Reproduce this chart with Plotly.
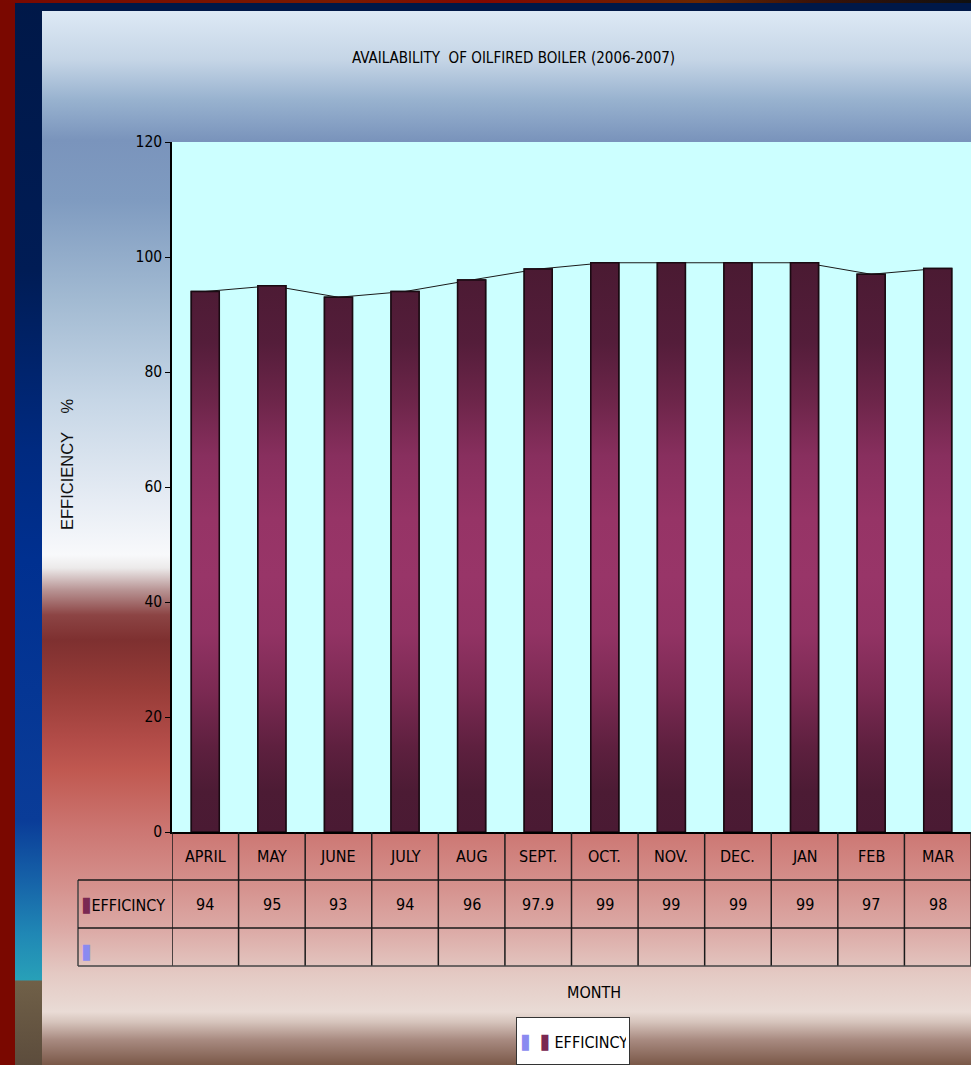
import base64
import plotly.graph_objects as go

# ---------------- data ----------------
months = ["APRIL", "MAY", "JUNE", "JULY", "AUG", "SEPT.", "OCT.", "NOV.", "DEC.", "JAN", "FEB", "MAR"]
efficiency = [94, 95, 93, 94, 96, 97.9, 99, 99, 99, 99, 97, 98]
series_name = "EFFICINCY"
blank_series = [None] * 12          # second (empty) series shown in table / legend
y_ticks = [0, 20, 40, 60, 80, 100, 120]
title_text = "AVAILABILITY  OF OILFIRED BOILER (2006-2007)"
y_title = "EFFICIENCY    %"
x_title = "MONTH"

# ---------------- layout constants ----------------
W, H = 971, 1065
PX0 = 172            # plot area left (px)
PY_TOP = 142         # y = 120
PY_BOT = 832         # y = 0
ROW1 = 880
ROW2 = 928
TABLE_BOT = 966
TABLE_X0 = 78
NARROW = "DejaVu Sans Condensed, Liberation Sans Narrow, sans-serif"
REG = "Liberation Sans, Arial, sans-serif"
BAR_COLOR = "#7a2852"
BLANK_COLOR = "#8a8af0"
GRID = "#1a1a1a"

def fx(px):
    return px / W

def fy(py):
    return 1 - py / H

def key(color):
    return f"<span style='color:{color};font-size:21px'>▮</span>"

# ---------------- background (decoration) ----------------
def stops(lst):
    return "".join(f"<stop offset='{o:.4f}' stop-color='{c}'/>" for o, c in lst)

main_stops = [(11, "#dde9f5"), (60, "#c5d5e6"), (100, "#98b2cf"), (140, "#7a94bc"),
              (200, "#7f9bc0"), (300, "#a2bad2"), (400, "#c6d6e6"), (500, "#e6ecf4"),
              (555, "#f8f9fb"), (568, "#eceaea"), (590, "#b89494"), (615, "#8c4444"),
              (640, "#7e3030"), (690, "#983c38"), (740, "#b24c48"), (770, "#c05850"),
              (830, "#cc7672"), (880, "#d48e8a"), (930, "#dcaaa6"), (975, "#e4cac4"),
              (1012, "#e9dbd5"), (1022, "#d6c4bc"), (1040, "#a88a80"), (1065, "#7a5848")]
side_stops = [(0, "#001848"), (270, "#001c55"), (450, "#002a80"), (560, "#003090"),
              (820, "#0a3c98"), (880, "#1662a8"), (935, "#2088b5"), (980, "#28a0b8"),
              (981, "#706048"), (1065, "#5c4c3c")]
top_stops = [(0, "#7a0800"), (0.35, "#7a1a00"), (0.5, "#820800"), (0.72, "#6a2600"),
             (0.84, "#3a1208"), (1, "#101010")]

svg = (
    f"<svg xmlns='http://www.w3.org/2000/svg' width='{W}' height='{H}' viewBox='0 0 {W} {H}' preserveAspectRatio='none'>"
    "<defs>"
    f"<linearGradient id='m' gradientUnits='userSpaceOnUse' x1='0' y1='0' x2='0' y2='{H}'>"
    + stops([(y / H, c) for y, c in main_stops]) + "</linearGradient>"
    f"<linearGradient id='s' gradientUnits='userSpaceOnUse' x1='0' y1='0' x2='0' y2='{H}'>"
    + stops([(y / H, c) for y, c in side_stops]) + "</linearGradient>"
    "<linearGradient id='t' x1='0' y1='0' x2='1' y2='0'>" + stops(top_stops) + "</linearGradient>"
    "</defs>"
    f"<rect width='{W}' height='{H}' fill='#7a0800'/>"
    f"<rect x='0' y='0' width='{W}' height='3' fill='url(#t)'/>"
    f"<rect x='15' y='3' width='{W - 15}' height='8' fill='#001848'/>"
    f"<rect x='15' y='3' width='27' height='{H - 3}' fill='url(#s)'/>"
    f"<rect x='42' y='11' width='{W - 42}' height='{H - 11}' fill='url(#m)'/>"
    "</svg>"
)
bg_src = "data:image/svg+xml;base64," + base64.b64encode(svg.encode()).decode()

# ---------------- traces ----------------
xpos = list(range(len(months)))
hw = 0.21  # half bar width (category units)

bar_scale = [[0.0, "#4a1a33"], [0.07, "#4c1b34"], [0.15, "#5e203f"], [0.25, "#7c2a53"],
             [0.35, "#923364"], [0.45, "#983568"], [0.55, "#963466"], [0.66, "#882f5e"],
             [0.76, "#6c2549"], [0.86, "#541d3a"], [1.0, "#4a1a32"]]

poly_x, poly_y = [], []
for i, v in zip(xpos, efficiency):
    poly_x += [i - hw, i - hw, i + hw, i + hw, i - hw, None]
    poly_y += [0, v, v, 0, 0, None]

fig = go.Figure()

# connecting line (behind the bars)
fig.add_trace(go.Scatter(x=xpos, y=efficiency, mode="lines",
                         line=dict(color="#1a1a1a", width=1),
                         showlegend=False, hoverinfo="skip"))

# empty series (table / legend only)
fig.add_trace(go.Bar(x=xpos, y=blank_series, name=" ", width=2 * hw,
                     marker=dict(color=BLANK_COLOR, line=dict(color="#111", width=1))))

# efficiency bars
fig.add_trace(go.Bar(x=xpos, y=efficiency, name=series_name, width=2 * hw,
                     marker=dict(color=BAR_COLOR, line=dict(color="#1a0a12", width=1.5))))

# gradient shading of the same bars
fig.add_trace(go.Scatter(x=poly_x, y=poly_y, mode="lines", fill="toself",
                         fillgradient=dict(type="vertical", colorscale=bar_scale,
                                           start=0, stop=max(efficiency)),
                         line=dict(color="#1a0a12", width=1.5),
                         showlegend=False, hoverinfo="skip"))

# ---------------- data table under the plot ----------------
shapes = [dict(type="rect", xref="x domain", yref="y domain", x0=0, x1=1, y0=0, y1=1,
               fillcolor="#ccffff", line=dict(width=0), layer="below")]
for i in range(len(months) + 1):
    shapes.append(dict(type="line", xref="x", yref="paper", x0=i - 0.5, x1=i - 0.5,
                       y0=fy(TABLE_BOT), y1=fy(PY_BOT), line=dict(color=GRID, width=1.5)))
shapes.append(dict(type="line", xref="paper", yref="paper", x0=fx(TABLE_X0), x1=fx(TABLE_X0),
                   y0=fy(TABLE_BOT), y1=fy(ROW1), line=dict(color="#444", width=1.5)))
for ypx, col in [(ROW1, GRID), (ROW2, GRID), (TABLE_BOT, "#444")]:
    shapes.append(dict(type="line", xref="paper", yref="paper", x0=fx(TABLE_X0), x1=1,
                       y0=fy(ypx), y1=fy(ypx), line=dict(color=col, width=1.5)))

cell_font = dict(family=NARROW, size=16, color="black")
annotations = []
for i, (m, v) in enumerate(zip(months, efficiency)):
    annotations.append(dict(text=m, xref="x", yref="paper", x=i, y=fy((PY_BOT + ROW1) / 2),
                            xanchor="center", yanchor="middle", showarrow=False, font=cell_font))
    annotations.append(dict(text=f"{v:g}", xref="x", yref="paper", x=i, y=fy((ROW1 + ROW2) / 2),
                            xanchor="center", yanchor="middle", showarrow=False, font=cell_font))
annotations.append(dict(text=key(BAR_COLOR) + series_name,
                        xref="paper", yref="paper", x=fx(79), y=fy((ROW1 + ROW2) / 2),
                        xanchor="left", yanchor="middle", showarrow=False, font=cell_font))
annotations.append(dict(text=key(BLANK_COLOR),
                        xref="paper", yref="paper", x=fx(79), y=fy(951),
                        xanchor="left", yanchor="middle", showarrow=False, font=cell_font))

annotations += [
    dict(text=title_text.replace("  ", "\u00a0\u00a0"), xref="paper", yref="paper",
         x=fx(513), y=fy(58), xanchor="center", yanchor="middle", showarrow=False,
         font=dict(family=NARROW, size=15, color="black")),
    dict(text=y_title.replace(" ", "\u00a0"), xref="paper", yref="paper",
         x=fx(67), y=fy(465), xanchor="center", yanchor="middle", showarrow=False,
         textangle=-90, font=dict(family=REG, size=16.5, color="#111")),
    dict(text=x_title, xref="paper", yref="paper", x=fx(594), y=fy(992),
         xanchor="center", yanchor="middle", showarrow=False,
         font=dict(family=NARROW, size=16, color="black")),
    # legend box
    dict(text=key(BLANK_COLOR) + "\u00a0\u00a0" + key(BAR_COLOR) + "\u00a0" + series_name,
         xref="paper", yref="paper", x=fx(516), y=fy(1017), xanchor="left", yanchor="top",
         showarrow=False, align="left", valign="middle", width=106, height=40,
         bgcolor="white", bordercolor="#333", borderwidth=1, borderpad=3,
         font=dict(family=NARROW, size=16, color="black")),
]

# ---------------- layout ----------------
fig.update_layout(
    width=W, height=H,
    margin=dict(l=0, r=0, t=0, b=0, autoexpand=False),
    paper_bgcolor="#7a0800",
    plot_bgcolor="#ccffff",
    barmode="overlay",
    showlegend=False,
    xaxis=dict(domain=[fx(PX0), 1], range=[-0.5, len(months) - 0.5],
               showticklabels=False, ticks="", showgrid=False, zeroline=False,
               showline=True, linecolor="black", linewidth=1.5, fixedrange=True,
               automargin=False),
    yaxis=dict(domain=[fy(PY_BOT), fy(PY_TOP)], range=[0, 120], tickvals=y_ticks,
               ticks="outside", ticklen=5, tickcolor="black", tickwidth=1,
               showgrid=False, zeroline=False, showline=True, linecolor="black",
               linewidth=1.5, tickfont=dict(family=NARROW, size=15.5, color="black"),
               fixedrange=True, automargin=False),
    images=[dict(source=bg_src, xref="paper", yref="paper", x=0, y=1, sizex=1, sizey=1,
                 xanchor="left", yanchor="top", sizing="stretch", layer="below")],
    shapes=shapes,
    annotations=annotations,
)

fig.write_html("out.html", config={"displayModeBar": False},
               post_script="document.body.style.margin='0';document.body.style.overflow='hidden';")
